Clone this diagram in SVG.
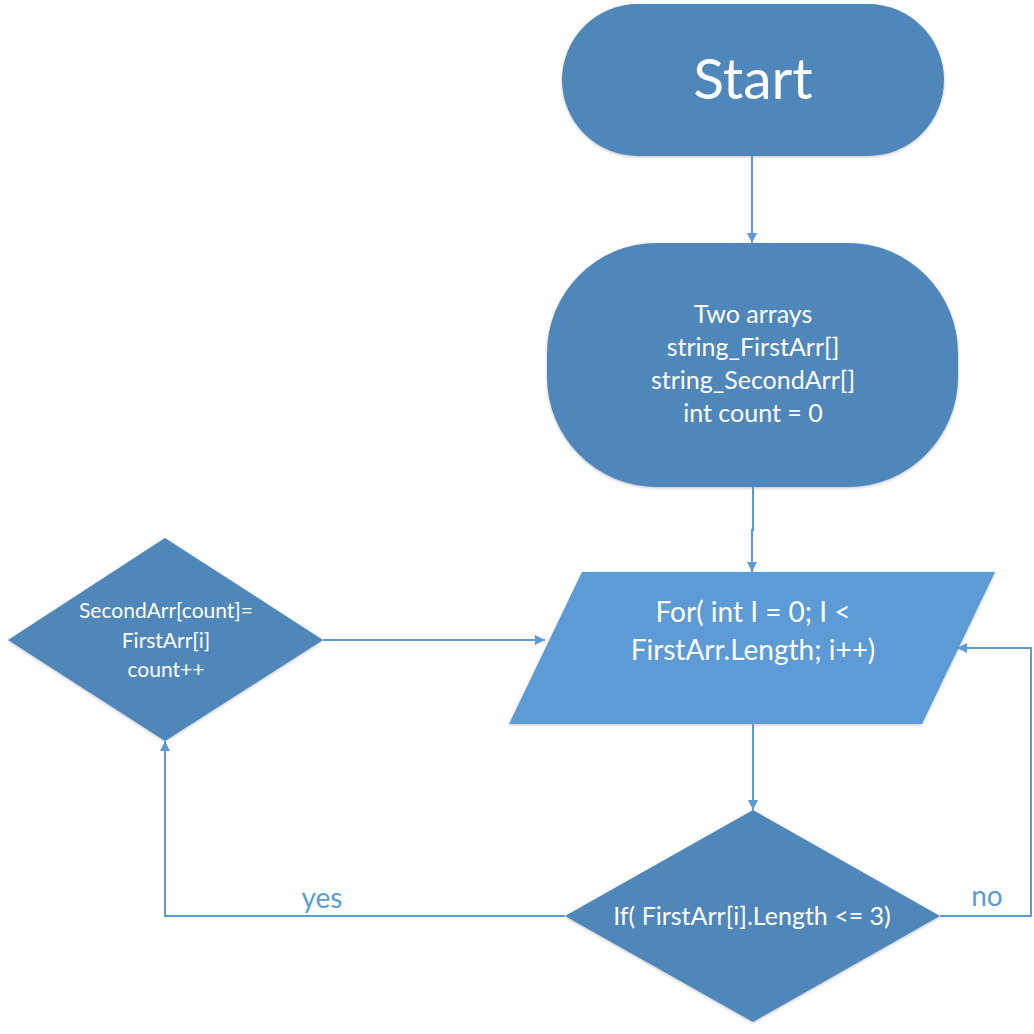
<svg xmlns="http://www.w3.org/2000/svg" width="1034" height="1034" viewBox="0 0 1034 1034">
<defs>
<marker id="arr" viewBox="0 0 10 10" refX="10" refY="5" markerWidth="10" markerHeight="10" markerUnits="userSpaceOnUse" orient="auto">
<path d="M0,0 L10,5 L0,10 z" fill="#5b9bd5"/>
</marker>
<filter id="sh" x="-10%" y="-10%" width="120%" height="120%">
<feDropShadow dx="0" dy="1" stdDeviation="1.5" flood-color="#000" flood-opacity="0.25"/>
</filter>
</defs>
<style>
.dark{fill:#4f87ba;filter:url(#sh)}
.light{fill:#5b9bd5;filter:url(#sh)}
.t{font-family:Lato,"Open Sans",sans-serif;fill:#fff;text-anchor:middle}
.lbl{font-family:Lato,"Open Sans",sans-serif;fill:#5b9bd5;font-size:28px;text-anchor:middle}
.c{fill:none;stroke:#5b9bd5;stroke-width:2;marker-end:url(#arr)}
</style>
<rect width="1034" height="1034" fill="#fff"/>
<g id="start">
<rect class="dark" x="562" y="4" width="382" height="152" rx="76" ry="76"/>
<text class="t" x="753" y="99" font-size="57">Start</text>
</g>
<g id="init">
<rect class="dark" x="547" y="243" width="411" height="244" rx="110" ry="110"/>
<text class="t" font-size="25"><tspan x="753" y="323">Two arrays</tspan><tspan x="753" y="356">string_FirstArr[]</tspan><tspan x="753" y="389">string_SecondArr[]</tspan><tspan x="753" y="422">int count = 0</tspan></text>
</g>
<g id="loop">
<polygon class="light" points="582,572 995,572 922,724 509,724"/>
<text class="t" font-size="28"><tspan x="753" y="622">For( int I = 0; I &lt;</tspan><tspan x="753" y="660">FirstArr.Length; i++)</tspan></text>
</g>
<g id="assign">
<polygon class="dark" points="8,640 165,538 323,640 165,741"/>
<text class="t" font-size="21"><tspan x="166" y="618">SecondArr[count]=</tspan><tspan x="166" y="648">FirstArr[i]</tspan><tspan x="166" y="677">count++</tspan></text>
</g>
<g id="cond">
<polygon class="dark" points="753,810 940,916 753,1022 565,916"/>
<text class="t" font-size="25" x="752" y="925">If( FirstArr[i].Length &lt;= 3)</text>
</g>
<g id="connectors">
<path class="c" d="M752,156 L752,243"/>
<path class="c" d="M753,487 L753,530 L752,530 L752,572"/>
<path class="c" d="M323,640 L545,640"/>
<path class="c" d="M753,724 L753,810"/>
<path class="c" d="M565,916 L165,916 L165,741"/>
<path class="c" d="M940,916 L1031,916 L1031,648 L957,648"/>
<text class="lbl" x="322" y="908">yes</text>
<text class="lbl" x="987" y="906">no</text>
</g>
</svg>
